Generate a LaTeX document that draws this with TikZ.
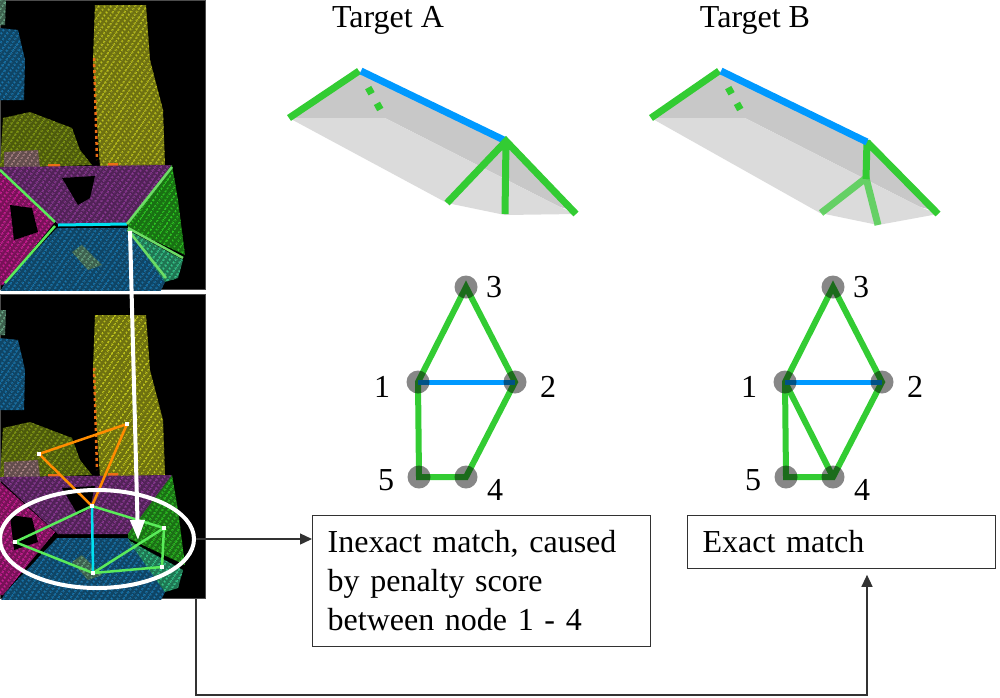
\documentclass[tikz,border=0pt]{standalone}
\usepackage{fontspec}
\setmainfont{Liberation Serif}
\usepackage{tikz}
\usetikzlibrary{arrows.meta}
\usetikzlibrary{shapes.geometric}
\usetikzlibrary{patterns.meta}
\definecolor{roofgreen}{RGB}{51,204,51}
\definecolor{roofblue}{RGB}{0,153,255}
\definecolor{roofdark}{RGB}{200,200,200}
\definecolor{rooflight}{RGB}{219,219,219}
\definecolor{ptyellow}{RGB}{200,205,30}
\definecolor{ptolive}{RGB}{140,165,20}
\definecolor{ptorange}{RGB}{235,110,20}
\definecolor{ptpurple}{RGB}{150,60,160}
\definecolor{ptmagenta}{RGB}{220,30,160}
\definecolor{ptblue}{RGB}{25,125,185}
\definecolor{ptgreen}{RGB}{45,205,35}
\definecolor{ptteal}{RGB}{55,215,150}
\definecolor{ptpink}{RGB}{180,140,140}
\definecolor{ptsage}{RGB}{110,175,140}
\definecolor{segcyan}{RGB}{0,225,240}
\definecolor{seggreen}{RGB}{90,235,90}
\definecolor{segorange}{RGB}{255,140,0}
\definecolor{linegray}{RGB}{50,50,50}
\tikzdeclarepattern{
    name=ptgrid,
    type=uncolored,
    bounding box={(0,0) and (3pt,4.5pt)},
    tile size={(3pt,4.5pt)},
    tile transformation={rotate=55},
    code={\pgfpathcircle{\pgfpoint{1.5pt}{2.25pt}}{1.3pt}\pgfusepath{fill}}
}
\tikzset{
    txt/.style={font=\fontsize{32}{39}\selectfont},
    panel/.style={anchor=north west, fill=black, draw=black!70, line width=1, inner sep=0},
    cloud/.style={preaction={fill=#1!55!black}, pattern=ptgrid, pattern color=#1},
    roofline/.style={roofgreen, line width=7},
    ridge/.style={roofblue, line width=7},
    hidden/.style={roofline, dash pattern=on 0pt off 19pt on 7pt off 11pt on 7pt off 60pt},
    gedge/.style={roofgreen, line width=6},
    bedge/.style={roofblue, line width=5},
    vtx/.style={circle, fill=black, fill opacity=0.47, minimum size=23, inner sep=0},
    numlbl/.style={txt, anchor=base, inner sep=0},
    title/.style={txt, anchor=base, inner sep=0},
    result/.style={txt, draw=linegray, line width=1.3, anchor=north west, align=left, inner sep=15},
    conn/.style={linegray, line width=1.3, -{Triangle[width=11, length=12]}},
    pointer/.style={white, line width=4, -{Triangle[width=14, length=20]}},
    ring/.style={ellipse, draw=white, line width=4, inner sep=0},
    segline/.style={line width=2.5},
}
\begin{document}
\begin{tikzpicture}[x=1pt, y=-1pt]

      \useasboundingbox (0,0) rectangle (1000,697);

      \newcommand\cloudscene{
        \fill[cloud=ptsage] (0,0) -- (6,0) -- (5,25) -- (0,25) -- cycle;
        \fill[cloud=ptblue] (0,28) -- (18,30) -- (25,60) -- (24,100) -- (0,100) -- cycle;
        \fill[cloud=ptolive] (3,118) -- (30,112) -- (72,128) -- (80,150) -- (92,165) -- (0,168) -- cycle;
        \fill[cloud=ptpink] (4,152) -- (38,150) -- (40,168) -- (4,168) -- cycle;
        \fill[cloud=ptyellow] (95,5) -- (146,5) -- (150,60) -- (163,110) -- (165,165) -- (100,167) -- (93,60) -- cycle;
        \draw[ptorange, line width=2.5, dash pattern=on 3pt off 3pt] (94,58) -- (97,160);
        \fill[ptorange] (48,164) rectangle (60,170) (108,163) rectangle (118,168);
        \fill[cloud=ptpurple] (0,167) -- (172,165) -- (128,224) -- (58,224) -- (0,170) -- cycle;
        \fill[black] (62,178) -- (95,176) -- (90,198) -- (78,205) -- cycle;
        \fill[cloud=ptmagenta] (0,172) -- (55,222) -- (3,285) -- (0,285) -- cycle;
        \fill[black] (10,205) -- (32,208) -- (38,232) -- (14,240) -- cycle;
        \fill[cloud=ptblue] (57,228) -- (128,228) -- (165,282) -- (160,292) -- (0,292) -- (5,283) -- cycle;
        \fill[cloud=ptsage] (72,252) -- (82,245) -- (102,265) -- (88,270) -- cycle;
        \fill[cloud=ptgreen] (172,165) -- (178,200) -- (185,255) -- (128,228) -- (128,224) -- cycle;
        \fill[cloud=ptteal] (128,230) -- (183,260) -- (178,278) -- (165,282) -- cycle;
      }

      \newcommand\matchgraph[3]{
        \path (#2,0)
          +(418,382) coordinate (#1-1)
          +(515,382) coordinate (#1-2)
          +(466,287) coordinate (#1-3)
          +(466,477) coordinate (#1-4)
          +(419,477) coordinate (#1-5);
        \draw[gedge] (#1-1) -- (#1-3) -- (#1-2) -- (#1-4) -- (#1-5) -- cycle;
        #3
        \draw[bedge] (#1-1) -- (#1-2);
        \foreach \n/\ox/\oy in {1/-36/15, 2/33/15, 3/28/10, 4/29/23, 5/-33/13}
          \path (#1-\n) node[vtx] (#1-\n-dot) {} ++(\ox,\oy) node[numlbl] (#1-\n-lbl) {\n};
      }

      % point cloud, segmented roof
      \node[panel, minimum width=205, minimum height=289] (panel-top) at (0,0) {};
      \begin{scope}
        \clip (panel-top.north west) rectangle (panel-top.south east);
        \cloudscene
      \end{scope}
      \draw[seggreen, segline] (0,170) -- (55,222) (55,226) -- (5,283);
      \draw[segcyan, line width=3] (58,225) -- (127,224);
      \draw[ptgreen!70!white, segline] (127,224) -- (172,167) (128,228) -- (183,258) (128,230) -- (166,278);

      % point cloud, roof graph
      \node[panel, minimum width=205, minimum height=304] (panel-bot) at (0,294) {};
      \begin{scope}
        \clip (panel-bot.north west) rectangle (panel-bot.south east);
        \begin{scope}[shift={(0,310)}]
          \cloudscene
        \end{scope}
      \end{scope}
      \path
          (15,542) coordinate (seg-1)
          (92,506) coordinate (seg-2)
          (164,528) coordinate (seg-3)
          (162,567) coordinate (seg-4)
          (93,573) coordinate (seg-5)
          (39,454) coordinate (seg-6)
          (127,424) coordinate (seg-7);
      \draw[segorange, segline] (seg-6) -- (seg-7) -- (seg-2) -- cycle;
      \draw[seggreen, segline] (seg-1) -- (seg-2) -- (seg-3) -- (seg-4) -- (seg-5) -- cycle (seg-5) -- (seg-3);
      \draw[segcyan, segline] (seg-2) -- (seg-5);
      \foreach \n in {1,...,7}
        \fill[white] (seg-\n) +(-2,-2) rectangle +(2,2);
      \node[ring, minimum width=194, minimum height=98] (ring) at (97,539) {};

      \coordinate (pick) at (130,231);
      \coordinate (hit) at (138,540);
      \draw[pointer] (pick) -- (hit);

      % target A
      \node[title] (title-a) at (388,27) {Target A};
      \fill[roofdark] (289,118) -- (359,71) -- (506,141) -- (571,210) -- (560,207) -- (385,118) -- cycle;
      \fill[rooflight] (289,118) -- (385,118) -- (560,207) -- (576,214) -- (505,215) -- (447,203) -- cycle;
      \draw[roofline] (289,118) -- (359,71);
      \draw[hidden] (359,71) -- (385,118);
      \draw[ridge] (361,71) -- (506,141);
      \draw[roofline] (447,203) -- (506,141) -- (576,214) (506,141) -- (505,214);

      % target B
      \node[title] (title-b) at (755,27) {Target B};
      \fill[roofdark] (651,118) -- (719,71) -- (867,142) -- (932,210) -- (920,207) -- (745,118) -- cycle;
      \fill[rooflight] (651,118) -- (745,118) -- (920,207) -- (938,214) -- (878,225) -- (820,213) -- cycle;
      \draw[roofline] (651,118) -- (719,71);
      \draw[hidden] (719,71) -- (745,118);
      \draw[roofline] (867,142) -- (938,214) (867,140) -- (866,179);
      \draw[roofline, opacity=0.7] (821,213) -- (866,178) -- (878,225);
      \draw[ridge] (721,71) -- (867,142);

      % graphs
      \matchgraph{a}{0}{}
      \matchgraph{b}{367}{\draw[gedge] (b-1) -- (b-4);}

      % results
      \node[result, text width=308] (box-inexact) at (312,515)
          {Inexact match, caused\\by penalty score\\between node 1 - 4};
      \node[result, text width=278] (box-exact) at (687,515) {Exact match};

      \coordinate (turn) at (867,695);
      \draw[conn] (ring.east) -- (ring.east -| box-inexact.west);
      \draw[conn, shorten >=6] (ring.east |- panel-bot.south) |- (turn) -- (turn |- box-exact.south);
    \end{tikzpicture}
\end{document}
